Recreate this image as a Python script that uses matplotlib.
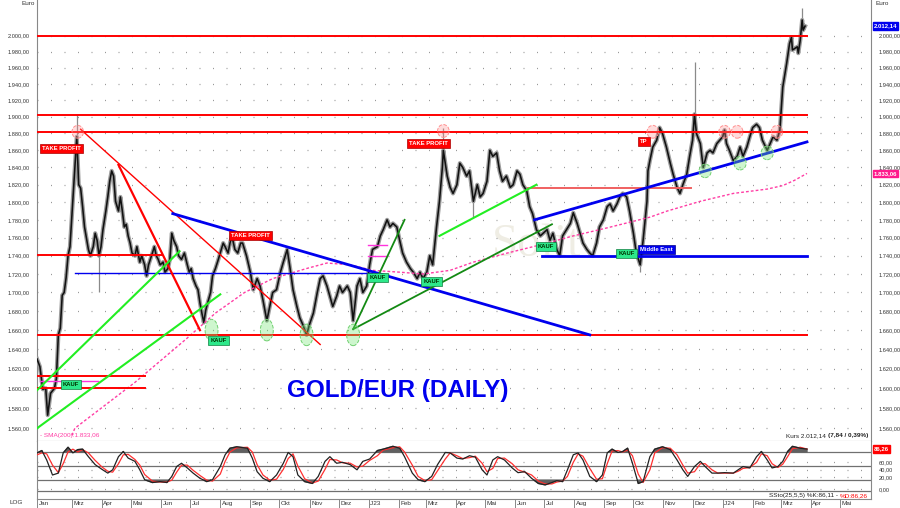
import matplotlib
matplotlib.use('Agg')
import numpy as np
import pandas as pd
import matplotlib.pyplot as plt
from matplotlib.path import Path
from matplotlib.transforms import Affine2D, blended_transform_factory, ScaledTranslation
from matplotlib.ticker import NullLocator, NullFormatter

plt.rcParams['font.family'] = ['Liberation Sans', 'DejaVu Sans']

# x values are calendar days since the first bar (2022-01-24)
start = pd.Timestamp('2022-01-24')

# daily close of gold in euro
price_day = [0, 3, 6, 9, 11, 14, 18, 20, 22, 24, 26, 28, 30, 32, 34, 36, 38, 41, 43, 45,
             47, 49, 53, 55, 58, 60, 62, 64, 66, 68, 71, 73, 75, 77, 79, 81, 84, 86, 88, 90,
             92, 94, 96, 98, 101, 103, 106, 108, 111, 113, 115, 119, 121, 123, 125, 127, 130, 132, 135, 137,
             139, 141, 144, 146, 149, 152, 155, 157, 159, 161, 164, 166, 168, 170, 172, 174, 176, 179, 181, 184,
             187, 190, 192, 194, 197, 199, 201, 204, 207, 210,
             212, 216, 220, 223, 227, 230, 233, 237, 240, 243, 247, 251, 254, 258, 261, 264, 268, 271, 274, 278,
             281, 285, 289, 292, 295, 299, 302, 305, 309, 312, 315, 320, 323, 326, 330, 333, 336, 340, 343, 346,
             351, 354, 357, 361, 364, 367, 371, 374, 377, 381, 385, 388, 392, 395, 398, 402, 405, 408, 412, 415,
             418, 419,
             423, 426, 429, 433, 436, 439, 443, 446, 450, 454, 457, 460, 464, 467, 470, 474, 477, 480, 484, 488,
             491, 495, 498, 501, 505, 508, 511, 515, 519, 522, 526, 529, 532, 536, 539, 542, 546, 550, 553, 557,
             560, 563, 567, 570, 573, 577, 580, 584, 588, 591, 594, 598, 601, 604, 608, 611, 615, 618, 622, 625,
             629, 630,
             632, 635, 639, 642, 645, 649, 653, 656, 660, 663, 666, 670, 673, 676, 678, 680, 684, 687, 691, 694,
             697, 701, 704, 707, 709, 711, 714, 718, 722, 725, 728, 732, 735, 738, 742, 745, 748, 753, 756, 759,
             763, 766, 769, 773, 776, 778, 779, 784, 785, 787, 789, 790, 792]
price_close = [1630, 1622, 1599, 1600, 1573, 1595, 1600, 1610, 1655, 1662, 1697, 1700, 1716, 1740, 1750, 1785, 1820, 1876, 1820, 1816,
               1795, 1772, 1747, 1740, 1750, 1765, 1757, 1740, 1750, 1769, 1790, 1806, 1824, 1836, 1830, 1801, 1790, 1806, 1790, 1772,
               1775, 1762, 1754, 1743, 1740, 1750, 1733, 1740, 1730, 1718, 1730, 1743, 1750, 1740, 1736, 1730, 1733, 1722, 1726, 1736,
               1765, 1757, 1750, 1740, 1736, 1743, 1730, 1722, 1726, 1715, 1707, 1703, 1689, 1678, 1668, 1681, 1689, 1700, 1718, 1726,
               1736, 1747, 1754, 1750, 1743, 1754, 1762, 1747, 1743, 1754,
               1754, 1740, 1722, 1703, 1715, 1707, 1692, 1670, 1685, 1700, 1703, 1722, 1733, 1747, 1726, 1703, 1685, 1673, 1666, 1655,
               1666, 1678, 1700, 1715, 1718, 1707, 1696, 1685, 1696, 1707, 1700, 1707, 1700, 1670, 1707, 1715, 1700, 1707, 1730, 1747,
               1750, 1762, 1769, 1780, 1772, 1776, 1772, 1757, 1743, 1733, 1726, 1722, 1715, 1722, 1715, 1722, 1740, 1730, 1772, 1801,
               1840, 1860,
               1830, 1817, 1810, 1820, 1845, 1840, 1830, 1836, 1801, 1820, 1806, 1810, 1824, 1860, 1853, 1857, 1836, 1824, 1830, 1817,
               1820, 1836, 1832, 1820, 1813, 1795, 1787, 1769, 1762, 1765, 1769, 1757, 1765, 1747, 1740, 1762, 1769, 1776, 1788, 1776,
               1765, 1754, 1747, 1743, 1740, 1754, 1772, 1780, 1795, 1798, 1790, 1798, 1806, 1810, 1806, 1790, 1765, 1743, 1730, 1757,
               1801, 1836,
               1848, 1864, 1872, 1887, 1880, 1864, 1845, 1832, 1817, 1810, 1820, 1832, 1853, 1872, 1903, 1880, 1868, 1840, 1857, 1860,
               1857, 1868, 1872, 1876, 1884, 1868, 1860, 1848, 1853, 1864, 1853, 1864, 1876, 1887, 1891, 1887, 1872, 1860, 1868, 1876,
               1872, 1884, 1936, 1965, 1990, 1998, 1982, 1986, 1978, 1994, 2020, 2007, 2012.14]

# a few long wicks
wick_day = [41, 419, 678, 789, 450, 622, 64]
wick_lo = [1876, 1860, 1903, 2020, 1783, 1722, 1700]
wick_hi = [1903, 1886, 1967, 2036, 1801, 1730, 1740]

# SMA(200)
sma_day = [36, 39, 101, 153, 184, 214, 243, 278, 299, 323, 346, 374, 398, 426, 450, 485, 519, 553, 588, 632,
           650, 684, 718, 753, 769, 781, 794]
sma_val = [1553, 1560, 1606, 1650, 1678, 1700, 1715, 1726, 1732, 1730, 1724, 1722, 1720, 1724, 1733, 1743, 1752, 1762, 1771, 1783,
           1790, 1801, 1810, 1815, 1819, 1825, 1833.06]

# horizontal levels: (price, from day, to day)
red_levels = [(2000, 0, 794), (1902, 0, 794), (1882, 0, 794), (1741, 0, 129), (1655, 0, 794),
              (1612, 0, 111), (1600, 0, 111)]
blue_thin_level = (1721, 39, 345)
salmon_level = (1816, 506, 674)
blue_thick_level = (1740, 521, 794)
magenta_levels = [(1607, 3, 63), (1752, 341, 361), (1740, 341, 361)]

# trend lines: ((day, price), (day, price))
red_thin_lines = [((45, 1885), (292, 1645))]
red_thick_lines = [((84, 1843), (168, 1660))]
blue_lines = [((140, 1787), (570, 1655)), ((513, 1780), (794, 1870))]
green_lines = [((0, 1598), (147, 1745)), ((0, 1560), (189, 1698)), ((415, 1762), (515, 1820))]
dkgreen_lines = [((326, 1661), (379, 1780)), ((326, 1661), (531, 1775))]

pink_marks = [(42, 1882), (419, 1883), (635, 1882), (709, 1882), (722, 1882), (763, 1882)]
green_marks_big = [(180, 1660), (237, 1660), (278, 1655), (326, 1655)]
green_marks = [(689, 1836), (725, 1845), (753, 1857)]

# boxed notes: (text, day, price, kind)
notes = [('TAKE PROFIT', 25, 1862, 'red'), ('TAKE PROFIT', 220, 1762, 'red'),
         ('TAKE PROFIT', 404, 1868, 'red'), ('TP', 626, 1871, 'red'),
         ('KAUF', 35, 1604, 'buy'), ('KAUF', 187, 1649, 'buy'), ('KAUF', 351, 1716, 'buy'),
         ('KAUF', 407, 1712, 'buy'), ('KAUF', 525, 1750, 'buy'), ('KAUF', 608, 1742, 'buy'),
         ('Middle East', 639, 1747, 'blue')]

# slow stochastic (25,5,5)
sto_day = [0, 5, 10, 16, 22, 27, 32, 37, 42, 47, 53, 60, 67, 73, 78, 84, 89, 94, 101, 106,
           111, 119, 127, 134, 139, 144, 149, 155, 161, 168, 175, 181, 189, 194, 199, 206, 217, 222, 227, 233,
           240, 247, 254, 259, 264, 269, 276, 284, 290, 297, 302, 309, 315, 323, 330, 336, 343, 351, 357, 367,
           374, 379, 387, 393, 400, 407, 413, 421, 426, 433, 439, 446, 452, 459, 464, 470, 475, 482, 490, 496,
           503, 510, 517, 524, 531, 536, 542, 547, 553, 558, 563, 570, 577, 583, 588, 593, 599, 604, 609, 614,
           620, 625, 632, 637, 645, 653, 660, 666, 671, 678, 684, 689, 696, 702, 709, 718, 723, 728, 735, 742,
           747, 753, 758, 764, 769, 774, 779, 787, 794]
sto_k = [78, 83, 63, 31, 35, 78, 90, 78, 85, 86, 70, 53, 43, 35, 42, 70, 81, 67, 60, 42,
         21, 15, 17, 15, 28, 49, 56, 46, 35, 24, 17, 21, 49, 74, 88, 91, 88, 67, 38, 24,
         17, 31, 56, 79, 70, 31, 17, 13, 28, 60, 70, 56, 58, 53, 42, 60, 65, 83, 86, 92,
         88, 70, 35, 21, 17, 28, 53, 79, 78, 67, 65, 72, 69, 42, 31, 63, 70, 63, 46, 36,
         38, 24, 13, 10, 15, 19, 17, 42, 74, 78, 63, 28, 17, 31, 78, 86, 79, 81, 88, 56,
         13, 17, 70, 86, 91, 85, 63, 42, 28, 49, 60, 49, 35, 35, 36, 35, 42, 49, 46, 70,
         81, 63, 46, 49, 60, 81, 92, 88, 86.11]
sto_d = [74, 78, 76, 52, 36, 55, 80, 86, 80, 85, 78, 62, 48, 39, 37, 55, 74, 75, 64, 52,
         32, 18, 16, 16, 20, 37, 52, 52, 41, 30, 20, 18, 33, 60, 80, 89, 90, 80, 53, 31,
         20, 22, 43, 66, 76, 50, 23, 14, 18, 43, 64, 63, 57, 56, 48, 50, 62, 72, 84, 89,
         91, 80, 52, 28, 19, 21, 40, 65, 78, 72, 66, 68, 71, 56, 38, 45, 66, 67, 55, 42,
         37, 31, 18, 12, 12, 16, 18, 28, 58, 76, 71, 45, 22, 23, 55, 82, 83, 80, 84, 72,
         33, 15, 42, 78, 89, 88, 74, 52, 35, 38, 55, 55, 42, 35, 35, 35, 39, 45, 47, 58,
         76, 72, 55, 47, 54, 70, 87, 90, 86.26]

month_starts = ['2022-01-24', '2022-03-01', '2022-04-01', '2022-05-01', '2022-06-01', '2022-07-01', '2022-08-01',
                '2022-09-01', '2022-10-01', '2022-11-01', '2022-12-01', '2023-01-01', '2023-02-01', '2023-03-01',
                '2023-04-01', '2023-05-01', '2023-06-01', '2023-07-01', '2023-08-01', '2023-09-01', '2023-10-01',
                '2023-11-01', '2023-12-01', '2024-01-01', '2024-02-01', '2024-03-01', '2024-04-01', '2024-05-01']
month_labels = ['Jan', 'Mrz', 'Apr', 'Mai', 'Jun', 'Jul', 'Aug', 'Sep', 'Okt', 'Nov', 'Dez', "J'23", 'Feb', 'Mrz',
                'Apr', 'Mai', 'Jun', 'Jul', 'Aug', 'Sep', 'Okt', 'Nov', 'Dez', "J'24", 'Feb', 'Mrz', 'Apr', 'Mai']


def de_fmt(v):
    s = '{:,.2f}'.format(v)
    return s.replace(',', 'X').replace('.', ',').replace('X', '.')


FS = 4.6
YFS = 4.1
RED = '#ff0000'
BLUE = '#0000ee'
PINK = '#ff3ea5'

fig = plt.figure(figsize=(9, 5.08), dpi=100)
ax = fig.add_axes([37/900, 67.3/508, 834/900, 440.7/508])
sa = fig.add_axes([37/900, 9/508, 834/900, 58.3/508])

# ---- main panel ----
ax.set_yscale('log')
ax.set_ylim(1547.8, 2045.7)
ax.set_xlim(0, 860)
yt = list(range(1560, 2001, 20))
ax.set_yticks(yt)
ax.set_yticklabels([de_fmt(v) for v in yt])
ax.yaxis.set_minor_locator(NullLocator())
ax.yaxis.set_minor_formatter(NullFormatter())
ax.tick_params(axis='y', left=False, right=False, labelleft=True, labelright=True,
               labelsize=YFS, pad=2, labelcolor='#333333')
ax.tick_params(axis='x', bottom=False, labelbottom=False)
ax.yaxis.grid(True, ls=(0, (0.8, 10)), color='#999999', lw=0.9)
ax.spines['top'].set_visible(False)
for s in ['left', 'right', 'bottom']:
    ax.spines[s].set_color('#888888')
    ax.spines[s].set_linewidth(0.8)

ax.text(515, 1752, 'Solit', fontsize=34, family='Liberation Serif', color='#efede4',
        ha='center', va='center', zorder=1)

ax.vlines(wick_day, wick_lo, wick_hi, color='#8a8a8a', lw=0.9, zorder=3)
ax.plot(price_day, price_close, color='#9c9c9c', lw=3.0, zorder=3)
ax.plot(price_day, price_close, color='#111111', lw=1.15, zorder=4)
ax.plot(sma_day, sma_val, color=PINK, lw=1.0, ls=(0, (2, 1.5)), zorder=4)

for p, a, b in red_levels:
    ax.plot([a, b], [p, p], color=RED, lw=1.4, zorder=5)
p, a, b = blue_thin_level
ax.plot([a, b], [p, p], color=BLUE, lw=1.0, zorder=5)
p, a, b = salmon_level
ax.plot([a, b], [p, p], color='#f06060', lw=1.4, zorder=5)
p, a, b = blue_thick_level
ax.plot([a, b], [p, p], color=BLUE, lw=2.0, zorder=5)
for p, a, b in magenta_levels:
    ax.plot([a, b], [p, p], color='#ff33dd', lw=1.0, zorder=5)

for (x0, y0), (x1, y1) in red_thin_lines:
    ax.plot([x0, x1], [y0, y1], color=RED, lw=1.0, zorder=5)
for (x0, y0), (x1, y1) in red_thick_lines:
    ax.plot([x0, x1], [y0, y1], color=RED, lw=1.6, zorder=5)
for (x0, y0), (x1, y1) in blue_lines:
    ax.plot([x0, x1], [y0, y1], color=BLUE, lw=2.0, zorder=5)
for (x0, y0), (x1, y1) in green_lines:
    ax.plot([x0, x1], [y0, y1], color='#22ee22', lw=1.5, zorder=5)
for (x0, y0), (x1, y1) in dkgreen_lines:
    ax.plot([x0, x1], [y0, y1], color='#138a13', lw=1.3, zorder=5)

ell = Path.unit_circle().transformed(Affine2D().scale(0.9, 1.0))
ell_tall = Path.unit_circle().transformed(Affine2D().scale(0.6, 1.0))
ax.scatter([m[0] for m in pink_marks], [m[1] for m in pink_marks], marker=ell, s=85,
           facecolor=(1, 0.55, 0.55, 0.3), edgecolor='#ff9090', linestyle='--', lw=0.7, zorder=6)
ax.scatter([m[0] for m in green_marks], [m[1] for m in green_marks], marker=ell, s=95,
           facecolor=(0.45, 0.9, 0.45, 0.35), edgecolor='#70d070', linestyle='--', lw=0.7, zorder=6)
ax.scatter([m[0] for m in green_marks_big], [m[1] for m in green_marks_big], marker=ell_tall, s=240,
           facecolor=(0.45, 0.9, 0.45, 0.35), edgecolor='#70d070', linestyle='--', lw=0.7, zorder=6)

styles = {'red': dict(fc=RED, ec='#aa0000', tc='white'),
          'buy': dict(fc='#2de88a', ec='#108040', tc='#003300'),
          'blue': dict(fc=BLUE, ec='#000088', tc='white')}
for txt, d, p, kind in notes:
    st = styles[kind]
    ax.text(d, p, txt, fontsize=4.2, weight='bold', color=st['tc'], ha='center', va='center', zorder=7,
            bbox=dict(boxstyle='square,pad=0.35', fc=st['fc'], ec=st['ec'], lw=0.5))

ax.text(372, 1598, 'GOLD/EUR (DAILY)', fontsize=17.5, weight='bold', color=BLUE,
        ha='center', va='center', zorder=7)
ax.text(3, 1553, '- SMA(200):1.833,06', fontsize=FS, color=PINK, va='center', zorder=7)
t1 = ax.text(857, 1553, '(7,84 / 0,39%)', fontsize=FS, weight='bold', ha='right', va='center', color='#222222')
ax.annotate('Kurs 2.012,14 ', xy=(0, 0.5), xycoords=t1, fontsize=FS, ha='right', va='center', color='#222222')

ax.annotate(de_fmt(price_close[-1]), xy=(1, price_close[-1]), xycoords=('axes fraction', 'data'),
            xytext=(2, 0), textcoords='offset points', fontsize=4.3, weight='bold', color='white',
            ha='left', va='center', annotation_clip=False,
            bbox=dict(boxstyle='square,pad=0.2', fc=BLUE, ec=BLUE))
ax.annotate(de_fmt(sma_val[-1]), xy=(1, sma_val[-1]), xycoords=('axes fraction', 'data'),
            xytext=(2, 0), textcoords='offset points', fontsize=4.3, weight='bold', color='white',
            ha='left', va='center', annotation_clip=False,
            bbox=dict(boxstyle='square,pad=0.2', fc='#ff1a8c', ec='#ff1a8c'))

# ---- stochastic panel ----
sa.set_xlim(0, 860)
sa.set_ylim(-20.1, 104)
kd = np.array(sto_day)
k = np.array(sto_k, dtype=float)
dd = np.array(sto_d, dtype=float)
sa.fill_between(kd, 80, k, where=k > 80, interpolate=True, color='#606060', zorder=2)
sa.fill_between(kd, 20, k, where=k < 20, interpolate=True, color='#606060', zorder=2)
for lv in [80, 50, 20, -3.6]:
    sa.axhline(lv, color='#707070', lw=0.9, zorder=1)
sa.plot(kd, dd, color='#ff3030', lw=0.9, zorder=3)
sa.plot(kd, k, color='#222222', lw=0.9, zorder=4)

sto_ticks = [58.5, 42.6, 27.0, 1.3]
sa.set_yticks(sto_ticks)
sa.set_yticklabels(['60,00', '40,00', '20,00', '0,00'])
sa.tick_params(axis='y', left=False, right=False, labelleft=False, labelright=True,
               labelsize=YFS, pad=2, labelcolor='#333333')
sa.yaxis.grid(True, ls=(0, (0.8, 10)), color='#999999', lw=0.9)
sa.tick_params(axis='x', bottom=False, labelbottom=False)
sa.spines['top'].set_visible(False)
for s in ['left', 'right', 'bottom']:
    sa.spines[s].set_color('#888888')
    sa.spines[s].set_linewidth(0.8)

sa.annotate('86,26', xy=(1, sto_d[-1]), xycoords=('axes fraction', 'data'),
            xytext=(2, 0), textcoords='offset points', fontsize=4.3, weight='bold', color='white',
            ha='left', va='center', annotation_clip=False,
            bbox=dict(boxstyle='square,pad=0.2', fc=RED, ec=RED))
t2 = sa.text(857, -13.7, '%D:86,26', fontsize=FS, color=RED, ha='right', va='center')
sa.annotate('SSto(25,5,5) %K:86,11 - ', xy=(0, 0.5), xycoords=t2, fontsize=FS, ha='right', va='center',
            color='#222222')

# month axis below the stochastic panel
trans = blended_transform_factory(sa.transData, sa.transAxes)
ttrans = trans + ScaledTranslation(1.5/100, 0, fig.dpi_scale_trans)
for ms, lab in zip(month_starts, month_labels):
    d = (pd.Timestamp(ms) - start).days
    sa.plot([d, d], [0, -0.16], transform=trans, color='#888888', lw=0.7, clip_on=False)
    sa.text(d, -0.075, lab, transform=ttrans, fontsize=FS, ha='left', va='center', color='#333333')

fig.text(16/900, 1 - 503/508, 'LOG', fontsize=FS, ha='center', va='center', color='#333333')
fig.text(21/900, 1 - 3.5/508, 'Euro', fontsize=FS, ha='left', va='center', color='#333333')
fig.text(875/900, 1 - 3.5/508, 'Euro', fontsize=FS, ha='left', va='center', color='#333333')

fig.savefig('out.png', dpi=100, facecolor='white')
